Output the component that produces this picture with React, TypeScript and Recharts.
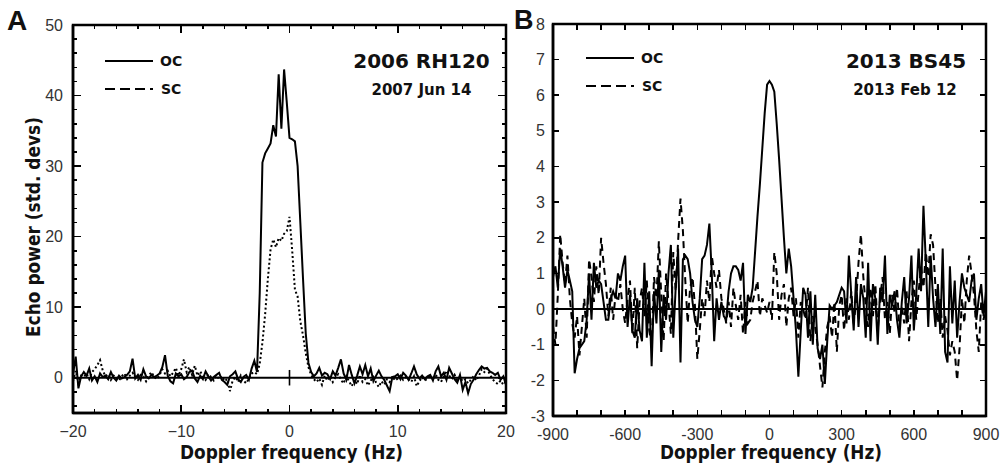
import React from "react";
import { LineChart, Line, XAxis, YAxis, ReferenceLine, ReferenceArea, Legend } from "recharts";

// ---- panel A: 2006 RH120, 0.25 Hz bins ----
const FREQ_A = Array.from({ length: 161 }, (_, i) => -20 + i * 0.25);

const OC_A = [
  0.5, 3.0, -1.5, 0.2, 0.8, 0.3, 1.3, -0.4, 0.2, -0.6, 0.6, 0.1, 0.3, -0.2, 0.8, 0.0,
  -0.4, 0.3, -0.1, 0.1, 0.4, 0.9, 2.7, -0.1, 0.4, -0.3, 1.2, 0.2, -0.1, 0.4, 0.1, 0.3,
  0.6, 1.5, 3.2, 0.3, -0.5, -0.8, 0.6, 0.2, 0.5, -0.2, 0.1, 0.8, 1.0, -0.1, -0.6, 0.3,
  -0.2, 0.9, 0.2, -0.4, 0.1, 0.4, 0.7, -0.3, -0.6, -1.0, 0.2, 0.5, 0.9, -0.2, -0.6, 0.1,
  0.4, -0.3, 1.3, 2.4, 0.8, 12.0, 30.5, 31.8, 32.5, 33.2, 35.8, 34.2, 43.0, 35.3, 43.7, 39.0,
  34.0, 33.8, 33.5, 30.0, 22.0, 14.0, 6.3, 2.1, 0.8, 0.2, 0.6, 1.4, 0.3, 0.7, 0.5, -0.2,
  0.9, 0.3, 1.4, 2.6, 0.6, -0.3, 1.8, 0.4, -0.8, 0.3, 1.6, 0.5, 1.8, 0.2, 1.3, -0.5,
  0.3, 1.0, 0.2, -0.3, -1.1, -1.9, 0.1, 0.2, 0.5, -0.2, 0.7, 0.3, -0.3, 0.6, 1.6, 0.5,
  -0.1, 0.3, -0.2, 0.2, 0.4, -0.4, 0.9, 1.6, 0.2, 0.7, -0.3, 1.4, 0.6, -0.2, -0.7, 0.4,
  -1.7, -0.6, -2.2, -0.9, -0.3, 0.5, 1.1, 1.6, 1.3, 1.4, 0.9, 0.7, 0.4, 0.7, -0.3, 0.2,
  -1.0,
];

const SC_A = [
  -0.5, 1.0, -0.8, 0.3, 0.1, 0.6, -0.2, 0.8, 1.2, 1.8, 2.5, 1.0, 0.2, 0.5, -0.3, 0.3,
  0.1, -0.4, 0.2, 0.6, -0.2, 0.3, 0.7, 0.1, -0.3, 0.4, 0.2, -0.5, 0.3, 0.8, 0.1, -0.2,
  0.4, 1.2, 0.6, 1.0, 0.2, 0.7, 1.4, 0.3, 1.2, 2.6, 0.8, 1.5, 0.4, 1.7, 0.3, 0.9,
  0.2, -0.3, 0.5, 0.1, -0.4, 0.3, -0.2, 0.2, -0.5, -0.2, -1.9, -0.4, 0.1, -0.6, 0.3, -0.4,
  -0.8, -0.1, 0.6, 0.8, 0.5, 2.0, 5.0, 9.0, 14.0, 18.2, 19.6, 18.5, 19.8, 19.4, 20.4, 20.8,
  22.8, 18.0, 12.5, 11.5, 8.0, 6.0, 3.5, 1.5, 0.4, -0.2, -0.6, -0.1, -1.0, 0.3, -0.4, 0.2,
  -0.6, 0.1, 0.5, -0.3, -0.8, 0.2, -0.5, -1.2, -0.3, -0.9, 0.4, -0.6, -0.2, -1.1, -0.4, 0.1,
  -0.7, -1.3, -0.5, -1.0, -0.2, -0.6, 0.2, -0.4, -0.1, 0.3, -0.3, 0.1, -0.2, -0.6, 0.2, -1.2,
  -0.5, 0.1, -0.4, -0.1, 0.3, -0.2, 0.5, -0.3, -0.6, 0.2, 1.0, 0.3, -0.2, 0.4, -0.4, 0.1,
  -0.5, -0.2, -0.8, -0.3, 0.2, -0.4, 0.3, 1.2, 0.8, 1.3, 0.5, -0.2, -0.6, -0.9, -0.4, -1.0,
  -0.5,
];

const X_TICKS_A = [-20, -18, -16, -14, -12, -10, -8, -6, -4, -2, 0, 2, 4, 6, 8, 10, 12, 14, 16, 18, 20];
const X_LABELS_A = [-20, -10, 0, 10, 20];
const Y_TICKS_A = [-4, -2, 0, 2, 4, 6, 8, 10, 12, 14, 16, 18, 20, 22, 24, 26, 28, 30, 32, 34, 36, 38, 40, 42, 44, 46, 48, 50];
const Y_LABELS_A = [0, 10, 20, 30, 40, 50];

// ---- panel B: 2013 BS45, 10 Hz bins ----
const FREQ_B = Array.from({ length: 181 }, (_, i) => -900 + i * 10);

const OC_B = [
  0.9, 1.2, 0.6, 1.7, 1.2, 0.6, 1.1, 0.8, 0.5, -1.8,
  -1.4, -1.1, -1.0, -0.9, -0.3, 1.0, -0.3, 1.3, 0.6, 0.8,
  0.7, 0.2, -0.3, -0.3, 0.3, 0.5, 0.3, 1.0, 0.8, 1.2,
  1.5, -0.5, 0.4, -0.6, -0.8, 0.3, -0.6, -0.9, 1.3, -0.8,
  0.5, -1.6, 0.5, -0.4, 1.1, -1.2, 0.4, -0.3, 1.0, 1.8,
  -0.8, 0.6, 1.7, -1.5, 1.4, 1.5, 1.4, 1.0, 0.2, -0.3,
  -0.5, 0.3, 1.4, 1.5, 1.8, 2.4, 1.0, -0.9, 0.3, -0.3,
  0.2, -0.2, -0.3, 0.5, 1.0, 1.2, 1.2, 1.1, 0.8, 1.3,
  -0.7, 0.4, 0.2, 0.6, 1.6, 2.6, 3.5, 4.5, 5.5, 6.3,
  6.4, 6.3, 6.1, 5.2, 4.2, 3.1, 2.0, 1.0, 1.7, 1.2,
  0.3, -0.6, -1.9, -0.6, 0.6, 0.4, -0.8, 0.5, -1.0, 0.4,
  -1.1, -1.4, -1.0, -2.1, -0.9, 0.1, 0.0, 0.1, 0.2, 0.4,
  0.6, 0.5, -0.4, 1.5, 0.4, -0.6, 0.9, -0.5, 0.7, 0.3,
  -0.8, 1.3, -0.9, 0.7, 0.3, -1.0, 0.6, 0.2, 1.5, -0.7,
  0.4, 0.1, 0.5, -0.3, -0.8, 0.2, 0.9, -0.4, 0.3, 1.5,
  -0.6, 0.4, 1.7, 0.5, 2.9, 1.3, -0.5, 1.5, 0.3, -0.5,
  0.7, -0.7, 1.7, -1.2, -1.5, 1.2, -0.4, 0.8, -0.8, 0.2,
  1.0, 0.6, 0.4, 0.2, 0.8, 1.0, -0.3, 0.3, 0.7, -0.2,
  0.5,
];

const SC_B = [
  -0.5, -1.0, 0.4, 2.1, 1.3, 0.7, 1.5, 0.3, -0.4, -0.8,
  -0.2, -1.3, -0.5, 0.3, -0.8, 1.4, 0.9, 0.2, 1.2, 0.4,
  2.0, 1.3, 0.7, -0.2, 0.6, -0.3, 0.4, 0.2, 0.7, 0.0,
  -0.4, 0.3, 0.8, -0.7, 0.6, -1.1, 0.2, 0.6, -0.2, 0.8,
  -0.6, -1.0, 0.9, 0.3, 1.9, 0.4, -0.9, 1.0, 0.2, -0.7,
  1.6, 0.5, 1.9, 3.1, 2.2, 0.8, -0.4, 0.6, 0.9, 0.1,
  -1.4, -0.6, 0.3, -0.2, 0.8, 0.2, 1.5, 1.0, 0.6, 1.1,
  0.3, 0.0, -0.4, 0.2, -0.5, 0.6, 0.1, -0.3, 0.4, -0.7,
  0.2, -0.4, -0.3, 0.2, 0.5, 0.8, -0.2, 0.3, 0.1, -0.1,
  0.2, -0.3, 1.6, 1.0, -0.3, 0.4, 0.7, -0.5, 0.3, 0.6,
  -0.2, 0.3, -0.8, 0.2, 0.0, -0.3, 0.6, -0.9, -0.2, -0.5,
  -1.0, -1.6, -2.2, -1.2, -0.5, -0.2, -0.8, 0.2, -1.2, 0.1,
  0.4, -0.6, 0.3, -0.3, 0.5, -0.4, 0.2, 1.3, 2.1, 0.9,
  0.1, -0.5, 0.6, -0.2, 0.7, -0.6, 0.3, 0.9, -0.3, 0.2,
  -0.7, 0.4, -0.1, 0.6, -0.5, 0.1, -0.4, 0.5, -0.9, 0.2,
  0.8, -0.3, 0.5, 1.2, 0.6, 1.6, 0.9, 2.1, 1.8, 0.6,
  -0.4, 0.3, -0.8, -0.2, -0.6, -1.3, -0.9, -1.2, -2.0, -1.1,
  0.3, -0.4, 0.8, 1.5, 1.0, 0.4, -0.6, -1.2, 0.2, -0.3,
  0.1,
];

const X_TICKS_B = [-900, -800, -700, -600, -500, -400, -300, -200, -100, 0, 100, 200, 300, 400, 500, 600, 700, 800, 900];
const X_LABELS_B = [-900, -600, -300, 0, 300, 600, 900];
const Y_TICKS_B = [-3, -2, -1, 0, 1, 2, 3, 4, 5, 6, 7, 8];
const Y_LABELS_B = [-3, -2, -1, 0, 1, 2, 3, 4, 5, 6, 7, 8];

const TICK_FONT = "'Liberation Sans', Arial, sans-serif";
const BOLD_FONT = "'DejaVu Sans', Verdana, sans-serif";

const Y_AXIS_W = 40;
const X_AXIS_H = 40;
const CHART_H = 466;

// tick labels from the library axes
const makeLabel = (side: "bottom" | "left", labels: number[], minus: string, gap: number) => (props: any) => {
  const { x, y, payload } = props;
  const v = payload.value;
  if (!labels.includes(v)) return <g />;
  const txt = String(v).replace("-", minus);
  return side === "bottom" ? (
    <text x={x} y={y + gap} textAnchor="middle" fontFamily={TICK_FONT} fontSize={16} fill="#333">
      {txt}
    </text>
  ) : (
    <text x={x - gap} y={y} dy={5.5} textAnchor="end" fontFamily={TICK_FONT} fontSize={16} fill="#333">
      {txt}
    </text>
  );
};

const LegendKey = () => (
  <svg width={84} height={42} style={{ display: "block" }}>
    <line x1={0} y1={7} x2={48} y2={7} stroke="#000" strokeWidth={2} />
    <text x={55} y={12} fontFamily={BOLD_FONT} fontWeight="bold" fontSize={14} fill="#111">
      OC
    </text>
    <line x1={0} y1={35} x2={50} y2={35} stroke="#000" strokeWidth={2} strokeDasharray="10 5 10 5 10 5 3 40" />
    <text x={56} y={40} fontFamily={BOLD_FONT} fontWeight="bold" fontSize={14} fill="#111">
      SC
    </text>
  </svg>
);

type FrameSpec = {
  left: number;
  top: number;
  xDomain: [number, number];
  yDomain: [number, number];
  xTicks: number[];
  xMajors: number[];
  yTicks: number[];
  yMajors: number[];
  majorLen: number;
  minorLen: number;
};

type PanelProps = FrameSpec & {
  rows: { f: number; oc: number; sc: number }[];
  width: number;
  margin: { top: number; right: number; bottom: number; left: number };
  xLabels: number[];
  yLabels: number[];
  minus: string;
  yGap: number;
  scDash: string;
  legendPos: { left: number; top: number };
  zeroCross?: boolean;
};

const plotSize = (p: PanelProps) => ({
  w: p.width - p.margin.left - p.margin.right - Y_AXIS_W,
  h: CHART_H - p.margin.top - p.margin.bottom - X_AXIS_H,
});

// box frame with inward ticks on all four sides
const Frame = ({ p }: { p: PanelProps }) => {
  const { w, h } = plotSize(p);
  const [x0, x1] = p.xDomain;
  const [y0, y1] = p.yDomain;
  const sx = (v: number) => ((v - x0) / (x1 - x0)) * w;
  const sy = (v: number) => ((y1 - v) / (y1 - y0)) * h;
  const marks: React.ReactNode[] = [];
  const bar = (key: string, l: number, t: number, bw: number, bh: number) =>
    marks.push(
      <div key={key} style={{ position: "absolute", left: l, top: t, width: bw, height: bh, background: "#000" }} />
    );
  p.xTicks.forEach((t, i) => {
    const L = p.xMajors.includes(t) ? p.majorLen : p.minorLen;
    const x = sx(t) - 0.8;
    bar(`xb${i}`, x, h - L, 1.6, L);
    bar(`xt${i}`, x, 0, 1.6, L);
  });
  p.yTicks.forEach((t, i) => {
    const L = p.yMajors.includes(t) ? p.majorLen : p.minorLen;
    const y = sy(t) - 0.8;
    bar(`yl${i}`, 0, y, L, 1.6);
    bar(`yr${i}`, w - L, y, L, 1.6);
  });
  return (
    <div
      style={{
        position: "absolute",
        left: p.left - 1.25,
        top: p.top - 1.25,
        width: w + 2.5,
        height: h + 2.5,
        pointerEvents: "none",
      }}
    >
      <div
        style={{
          position: "absolute",
          left: 0,
          top: 0,
          width: w + 2.5,
          height: h + 2.5,
          boxSizing: "border-box",
          border: "2.5px solid #000",
        }}
      />
      <div style={{ position: "absolute", left: 1.25, top: 1.25, width: w, height: h }}>{marks}</div>
    </div>
  );
};

const Panel = (p: PanelProps) => (
  <LineChart width={p.width} height={CHART_H} data={p.rows} margin={p.margin}>
    <XAxis
      dataKey="f"
      type="number"
      domain={p.xDomain}
      ticks={p.xTicks}
      interval={0}
      allowDataOverflow
      height={X_AXIS_H}
      tickSize={0}
      tickMargin={0}
      tickLine={false}
      axisLine={{ stroke: "#000", strokeWidth: 2.5 }}
      tick={makeLabel("bottom", p.xLabels, p.minus, 24)}
    />
    <YAxis
      type="number"
      domain={p.yDomain}
      ticks={p.yTicks}
      interval={0}
      allowDataOverflow
      width={Y_AXIS_W}
      tickSize={0}
      tickMargin={0}
      tickLine={false}
      axisLine={{ stroke: "#000", strokeWidth: 2.5 }}
      tick={makeLabel("left", p.yLabels, p.minus, p.yGap)}
    />
    <ReferenceArea
      x1={p.xDomain[0]}
      x2={p.xDomain[1]}
      y1={p.yDomain[0]}
      y2={p.yDomain[1]}
      fill="none"
      fillOpacity={0}
      stroke="#000"
      strokeWidth={2.5}
      ifOverflow="visible"
    />
    <ReferenceLine y={0} stroke="#000" strokeWidth={2} />
    {p.zeroCross && (
      <ReferenceLine
        segment={[
          { x: 0, y: -1.1 },
          { x: 0, y: 1.1 },
        ]}
        stroke="#000"
        strokeWidth={1.6}
      />
    )}
    <Line
      dataKey="sc"
      type="linear"
      stroke="#000"
      strokeWidth={2}
      strokeDasharray={p.scDash}
      dot={false}
      isAnimationActive={false}
    />
    <Line dataKey="oc" type="linear" stroke="#000" strokeWidth={2} dot={false} isAnimationActive={false} />
    <Legend
      layout="horizontal"
      verticalAlign="middle"
      align="center"
      wrapperStyle={{ left: p.legendPos.left, top: p.legendPos.top, width: 84, height: 42 }}
      content={() => <LegendKey />}
    />
  </LineChart>
);

const rowsA = FREQ_A.map((f, i) => ({ f, oc: OC_A[i], sc: SC_A[i] }));
const rowsB = FREQ_B.map((f, i) => ({ f, oc: OC_B[i], sc: SC_B[i] }));

const PANEL_A: PanelProps = {
  rows: rowsA,
  left: 73,
  top: 25,
  width: 520,
  margin: { top: 25, right: 14, bottom: 13, left: 33 },
  xDomain: [-20, 20],
  yDomain: [-5, 50],
  xTicks: X_TICKS_A,
  xLabels: X_LABELS_A,
  xMajors: X_LABELS_A,
  yTicks: Y_TICKS_A,
  yLabels: Y_LABELS_A,
  yMajors: Y_LABELS_A,
  majorLen: 8,
  minorLen: 4,
  minus: "\u2212",
  yGap: 10,
  scDash: "2 2.5",
  legendPos: { left: 105, top: 54 },
  zeroCross: true,
};

// chart B sits at page x = 500
const PANEL_B: PanelProps = {
  rows: rowsB,
  left: 553,
  top: 24,
  width: 504,
  margin: { top: 24, right: 18, bottom: 10, left: 13 },
  xDomain: [-900, 900],
  yDomain: [-3, 8],
  xTicks: X_TICKS_B,
  xLabels: X_LABELS_B,
  xMajors: [],
  yTicks: Y_TICKS_B,
  yLabels: Y_LABELS_B,
  yMajors: [],
  majorLen: 6,
  minorLen: 6,
  minus: "-",
  yGap: 8,
  scDash: "7 5",
  legendPos: { left: 86, top: 51 },
};

const App = () => {
  const bold = { fontFamily: BOLD_FONT, fontWeight: "bold" as const, fill: "#111" };
  return (
    <div style={{ position: "absolute", left: 0, top: 0, width: 1004, height: 466, background: "#fff" }}>
      <div style={{ position: "absolute", left: 0, top: 0 }}>
        <Panel {...PANEL_A} />
      </div>
      <div style={{ position: "absolute", left: 500, top: 0 }}>
        <Panel {...PANEL_B} />
      </div>
      <Frame p={PANEL_A} />
      <Frame p={PANEL_B} />
      <svg
        width={1004}
        height={466}
        style={{ position: "absolute", left: 0, top: 0, pointerEvents: "none" }}
      >
        <text x={7} y={30} fontFamily={TICK_FONT} fontWeight="bold" fontSize={28} fill="#111">
          A
        </text>
        <text x={514} y={29} fontFamily={TICK_FONT} fontWeight="bold" fontSize={27} fill="#111">
          B
        </text>
        <text
          transform="translate(40,227) rotate(-90)"
          textAnchor="middle"
          fontSize={20}
          textLength={220}
          lengthAdjust="spacingAndGlyphs"
          {...bold}
        >
          Echo power (std. devs)
        </text>
        <text x={291.5} y={459} textAnchor="middle" fontSize={19} textLength={223} lengthAdjust="spacingAndGlyphs" {...bold}>
          Doppler frequency (Hz)
        </text>
        <text x={771} y={459} textAnchor="middle" fontSize={19} textLength={222} lengthAdjust="spacingAndGlyphs" {...bold}>
          Doppler frequency (Hz)
        </text>
        <text x={421.5} y={68} textAnchor="middle" fontSize={20} {...bold}>
          2006 RH120
        </text>
        <text x={421.5} y={95} textAnchor="middle" fontSize={15} {...bold}>
          2007 Jun 14
        </text>
        <text x={906} y={68} textAnchor="middle" fontSize={20} {...bold}>
          2013 BS45
        </text>
        <text x={905} y={95} textAnchor="middle" fontSize={15} {...bold}>
          2013 Feb 12
        </text>
      </svg>
    </div>
  );
};

export default App;
